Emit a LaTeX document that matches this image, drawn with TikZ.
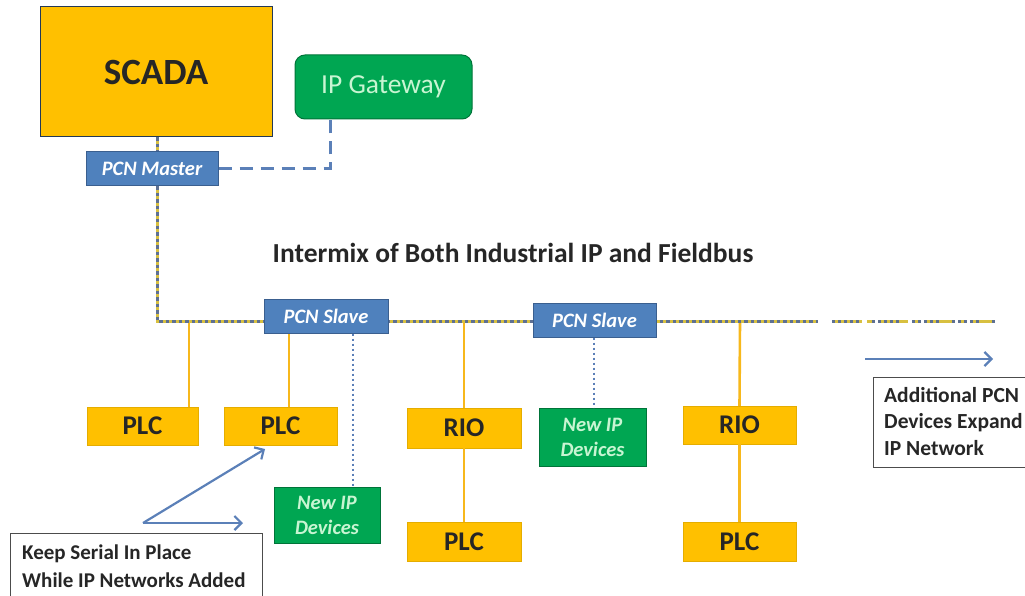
\documentclass[tikz,border=0pt]{standalone}
\usepackage{fontspec}
\setmainfont{Carlito}
\usetikzlibrary{arrows.meta,calc}
\definecolor{scadaor}{HTML}{FFC000}
\definecolor{gwgreen}{HTML}{00A652}
\definecolor{pcnblue}{HTML}{4F81BD}
\definecolor{pcnedge}{HTML}{3A5F8F}
\definecolor{lightgr}{HTML}{C8F5D2}
\definecolor{busyel}{HTML}{D8C040}
\definecolor{busblu}{HTML}{5E7092}
\definecolor{wireor}{HTML}{F7B81C}
\definecolor{ipblue}{HTML}{5B7FB8}
\definecolor{arrblue}{HTML}{5B80B8}
\tikzset{
  orbox/.style={draw=scadaor!90!black, line width=0.4pt, fill=scadaor, inner sep=0pt, font=\fontsize{27}{29}\selectfont\bfseries, text=black!85},
  pcnbox/.style={draw=pcnedge, line width=1pt, fill=pcnblue, inner sep=0pt, text=white, font=\fontsize{20.5}{22}\selectfont\bfseries\itshape},
  ipbox/.style={draw=gwgreen!70!black, line width=1pt, fill=gwgreen, inner sep=0pt, text=lightgr, align=center, font=\fontsize{20.5}{25}\selectfont\bfseries\itshape},
  notebox/.style={draw=black!70, line width=1pt, fill=white, inner sep=0pt, anchor=north west},
  notetext/.style={anchor=west, inner sep=0pt, font=\fontsize{21}{23}\selectfont\bfseries, text=black!85},
  wire/.style={wireor, line width=2.6pt},
  ipwire/.style={ipblue, line width=2.6pt, dash pattern=on 2.5pt off 2.5pt},
  busy/.style={busyel, line width=3pt},
  busb/.style={busblu, line width=3pt, dash pattern=on 3.5pt off 3pt},
  gwlink/.style={arrblue, line width=3pt, dash pattern=on 13pt off 8pt},
  barrow/.style={arrblue, line width=2.2pt, -{Straight Barb[length=7pt,width=14pt,line width=2.2pt]}},
}
\begin{document}
\begin{tikzpicture}[x=1pt,y=-1pt]
\useasboundingbox (0,0) rectangle (1025,596);
% bus coordinates
\coordinate (busL) at (157,321);
\coordinate (busR) at (818,321);
\coordinate (tap1) at (189,321);
\coordinate (tap2) at (289,321);
\coordinate (tap3) at (353,321);
\coordinate (tap4) at (464,321);
\coordinate (tap5) at (594,321);
\coordinate (tap6) at (740,321);
\coordinate (ext1) at (832,321);
\coordinate (ext2) at (995,321);
\coordinate (gwc) at (330,169);
% nodes
\path
  node[orbox, minimum width=232, minimum height=130, draw=pcnedge!60!black, line width=1pt, font=\fontsize{37}{39}\selectfont\bfseries] (scada) at (156,72) {SCADA}
  node[draw=gwgreen!70!black, line width=1pt, fill=gwgreen, rounded corners=10pt, minimum width=177, minimum height=64, inner sep=0pt, text=lightgr, font=\fontsize{27.5}{29}\selectfont] (gw) at (383.5,87) {IP Gateway}
  node[pcnbox, minimum width=132, minimum height=34] (master) at (152,169) {PCN Master}
  node[pcnbox, minimum width=124, minimum height=34] (slave1) at (326,316) {PCN Slave}
  node[pcnbox, minimum width=123, minimum height=34] (slave2) at (594.5,320) {PCN Slave}
  node[orbox, minimum width=111, minimum height=38] (plc1) at (142.5,426) {PLC}
  node[orbox, minimum width=113, minimum height=38] (plc2) at (280.5,426) {PLC}
  node[ipbox, minimum width=106, minimum height=56] (ip1) at (327,515) {New IP\\Devices}
  node[orbox, minimum width=114, minimum height=40] (rio1) at (464,428) {RIO}
  node[orbox, minimum width=114, minimum height=39] (plc3) at (464,541.5) {PLC}
  node[ipbox, minimum width=107, minimum height=58] (ip2) at (592.5,437) {New IP\\Devices}
  node[orbox, minimum width=113, minimum height=38] (rio2) at (739.5,425) {RIO}
  node[orbox, minimum width=113, minimum height=39] (plc4) at (739.5,541.5) {PLC};
% connectors
\draw[wire] (tap1) -- (plc1.north -| tap1);
\draw[wire] (tap2) -- (plc2.north -| tap2);
\draw[wire] (tap4) -- (rio1.north);
\draw[wire] (rio1.south) -- (plc3.north);
\draw[wire] (tap6) -- (rio2.north);
\draw[wire] (rio2.south) -- (plc4.north);
\draw[ipwire] (slave1.south -| tap3) -- (ip1.north -| tap3);
\draw[ipwire] (slave2.south -| tap5) -- (ip2.north -| tap5);
\draw[gwlink] (master.east) -- (gwc) -- (gw.south -| gwc);
% bus
\draw[busy] (scada.south -| busL) -- (master.north -| busL);
\draw[busb] (scada.south -| busL) -- (master.north -| busL);
\draw[busy] (master.south -| busL) -- (busL) -- (busR);
\draw[busb] (master.south -| busL) -- (busL) -- (busR);
\draw[busy, dash pattern=on 30pt off 5pt on 5pt off 6pt] (ext1) -- (ext2);
\draw[busb, dash pattern=on 3pt off 3pt on 3pt off 3pt on 3pt off 3pt on 3pt off 3pt on 3pt off 13pt] (ext1) -- (ext2);
% redraw nodes on top of the bus
\path
  node[orbox, minimum width=232, minimum height=130, draw=pcnedge!60!black, line width=1pt, font=\fontsize{37}{39}\selectfont\bfseries] at (156,72) {SCADA}
  node[pcnbox, minimum width=132, minimum height=34] at (152,169) {PCN Master}
  node[pcnbox, minimum width=124, minimum height=34] at (326,316) {PCN Slave}
  node[pcnbox, minimum width=123, minimum height=34] at (594.5,320) {PCN Slave};
% title
\node[font=\fontsize{27.5}{29}\selectfont\bfseries, text=black!85, inner sep=0pt] (title) at (513,253) {Intermix of Both Industrial IP and Fieldbus};
% right note
\coordinate (arrS) at (865,359);
\coordinate (arrE) at (993,359);
\draw[barrow] (arrS) -- (arrE);
\node[notebox, minimum width=160, minimum height=90] (addbox) at (873,377) {};
\node[notetext, font=\fontsize{21.5}{23}\selectfont\bfseries] (add1) at (884,395) {Additional PCN};
\node[notetext, font=\fontsize{21.5}{23}\selectfont\bfseries] (add2) at (884,423) {Devices Expand};
\node[notetext, font=\fontsize{21.5}{23}\selectfont\bfseries] (add3) at (884,448) {IP Network};
% left note
\node[notebox, minimum width=252, minimum height=70] (keepbox) at (10,533) {};
\node[notetext] (keep1) at (22,554) {Keep Serial In Place};
\node[notetext] (keep2) at (22,580) {While IP Networks Added};
\coordinate (fork) at (143,523);
\coordinate (fork2) at (243,523);
\draw[barrow] (fork) -- (265,449);
\draw[barrow] (fork) -- (fork2);
\end{tikzpicture}
\end{document}
